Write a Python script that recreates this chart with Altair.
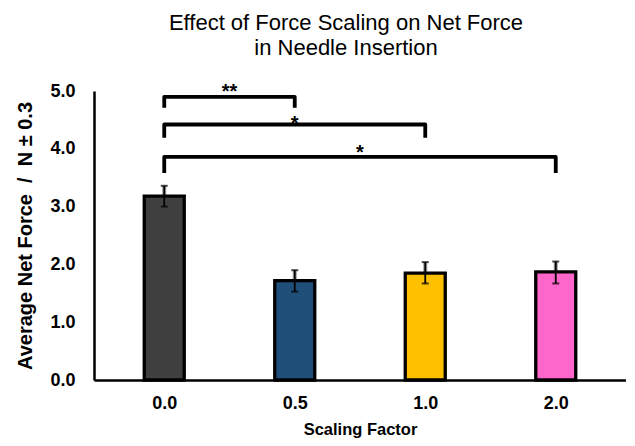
import altair as alt
import pandas as pd

# ---- data ----
factors = ["0.0", "0.5", "1.0", "2.0"]
means = [3.18, 1.72, 1.85, 1.87]
err_low = [3.00, 1.53, 1.67, 1.67]
err_high = [3.36, 1.90, 2.04, 2.05]
colors = ["#404040", "#1F4E79", "#FFC000", "#FF66CC"]

br_start = ["0.0", "0.0", "0.0"]
br_end = ["0.5", "1.0", "2.0"]
br_top = [4.90, 4.42, 3.86]
br_leg = [4.71, 4.19, 3.58]
br_label = ["**", "*", "*"]
star_y = [4.88, 4.33, 3.82]

FONT = "Liberation Sans"

idx = {f: i for i, f in enumerate(factors)}
bars_df = pd.DataFrame({
    "pos": list(range(len(factors))),
    "factor": factors,
    "mean": means,
    "lo": err_low,
    "hi": err_high,
})

rows = []
for k, (s, e, t, l) in enumerate(zip(br_start, br_end, br_top, br_leg)):
    xs, xe = idx[s], idx[e]
    rows += [
        dict(b=k, o=0, x=xs, y=l),
        dict(b=k, o=1, x=xs, y=t),
        dict(b=k, o=2, x=xe, y=t),
        dict(b=k, o=3, x=xe, y=l),
    ]
br_df = pd.DataFrame(rows)
star_df = pd.DataFrame({
    "x": [(idx[s] + idx[e]) / 2 for s, e in zip(br_start, br_end)],
    "y": star_y,
    "label": br_label,
})

label_expr = "[" + ",".join(f"'{f}'" for f in factors) + "][datum.value]"

xscale = alt.Scale(domain=[-0.5, len(factors) - 0.5], nice=False, zero=False)
yscale = alt.Scale(domain=[0, 5], nice=False)

x_axis = alt.Axis(
    values=list(range(len(factors))), labelExpr=label_expr, title="Scaling Factor",
    grid=False, ticks=False, domainColor="black", domainWidth=2.5,
    labelFont=FONT, labelFontSize=18, labelFontWeight="bold", labelColor="black",
    labelPadding=14, titleFont=FONT, titleFontSize=16.5, titleFontWeight="bold",
    titleColor="black", titlePadding=9,
)
y_axis = alt.Axis(
    values=[0, 1, 2, 3, 4, 5], format=".1f", title="Average Net Force\u00a0 /\u00a0 N ± 0.3",
    grid=False, ticks=False, domainColor="black", domainWidth=2.5,
    labelFont=FONT, labelFontSize=18, labelFontWeight="bold", labelColor="black",
    labelPadding=19, titleFont=FONT, titleFontSize=20, titleFontWeight="bold",
    titleColor="black", titlePadding=14,
)

base = alt.Chart(bars_df)

bars = base.mark_bar(size=40, stroke="black", strokeWidth=3.3).encode(
    x=alt.X("pos:Q", scale=xscale, axis=x_axis),
    y=alt.Y("mean:Q", scale=yscale, axis=y_axis),
    color=alt.Color("factor:N", scale=alt.Scale(domain=factors, range=colors), legend=None),
)

err_gray = base.mark_rule(color="#999999", strokeWidth=4).encode(
    x="pos:Q", y="lo:Q", y2="hi:Q"
)
err = base.mark_rule(color="black", strokeWidth=1.8).encode(
    x="pos:Q", y="lo:Q", y2="hi:Q"
)
cap_lo = base.mark_tick(orient="horizontal", color="black", size=7, thickness=2).encode(
    x="pos:Q", y="lo:Q"
)
cap_hi = base.mark_tick(orient="horizontal", color="black", size=7, thickness=2).encode(
    x="pos:Q", y="hi:Q"
)

brackets = alt.Chart(br_df).mark_line(
    color="black", strokeWidth=3.8, strokeJoin="round", strokeCap="butt"
).encode(
    x="x:Q", y="y:Q", detail="b:N", order="o:Q"
)

stars = alt.Chart(star_df).mark_text(
    font=FONT, fontSize=20, fontWeight="bold", color="black", baseline="alphabetic"
).encode(
    x="x:Q", y="y:Q", text="label:N"
)

chart = alt.layer(err_gray, bars, err, cap_lo, cap_hi, brackets, stars).properties(
    width=532,
    height=289,
    title=alt.TitleParams(
        ["Effect of Force Scaling on Net Force", "in Needle Insertion"],
        font=FONT, fontSize=22, fontWeight="normal", color="black",
        anchor="middle", dx=-14, lineHeight=25, offset=22,
    ),
    padding={"left": 7, "top": 3, "right": 0, "bottom": 0},
).configure_view(stroke=None)

chart.save("out.html", embed_options={"renderer": "svg", "actions": False})
